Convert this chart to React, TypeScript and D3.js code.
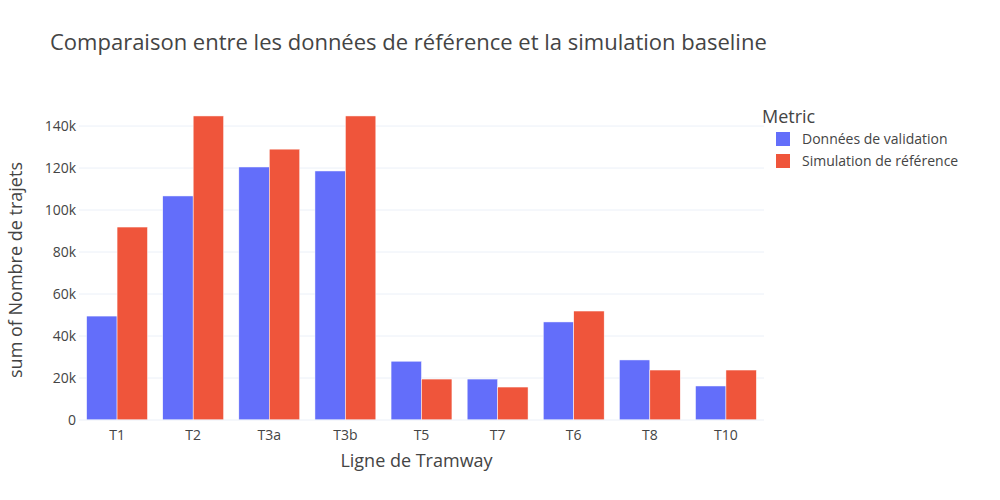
import React from "react";
import * as d3 from "d3";

const categories = ["T1", "T2", "T3a", "T3b", "T5", "T7", "T6", "T8", "T10"];
const validation = [49500, 106700, 120500, 118600, 28000, 19500, 46700, 28600, 16200];
const simulation = [91900, 144800, 129000, 144800, 19500, 15700, 51900, 23800, 23800];
const yTicks = [0, 20000, 40000, 60000, 80000, 100000, 120000, 140000];
const seriesNames = ["Données de validation", "Simulation de référence"];
const colors = ["#636efa", "#EF553B"];

export default function App() {
  const W = 1000, H = 500;
  const left = 79, right = 764, top = 100, bottom = 420;
  const x = d3.scaleBand().domain(categories).range([left, right]).paddingInner(0.2).paddingOuter(0.1);
  const inner = d3.scaleBand().domain(["0", "1"]).range([0, x.bandwidth()]);
  const y = d3.scaleLinear().domain([0, 152400]).range([bottom, top]);
  const font = "'Open Sans', sans-serif";
  const data = [validation, simulation];
  return (
    <svg width={W} height={H} style={{ position: "absolute", left: 0, top: 0, fontFamily: font }}>
      <rect width={W} height={H} fill="#fff" />
      {yTicks.map((t) => (
        <g key={t}>
          {t > 0 && <line x1={left} x2={right} y1={y(t)} y2={y(t)} stroke="#ebf0f8" />}
          <text x={left - 3} y={y(t)} dy="0.35em" textAnchor="end" fontSize={14} fill="#444">
            {t === 0 ? "0" : `${t / 1000}k`}
          </text>
        </g>
      ))}
      {data.map((vals, s) =>
        categories.map((c, i) => (
          <rect key={c + s} x={(x(c) as number) + (inner(String(s)) as number)} width={inner.bandwidth()}
            y={y(vals[i])} height={bottom - y(vals[i])} fill={colors[s]} stroke="#fff" strokeWidth={0.5} />
        ))
      )}
      <line x1={left} x2={right} y1={bottom} y2={bottom} stroke="#ebf0f8" />
      {categories.map((c) => (
        <text key={c} x={(x(c) as number) + x.bandwidth() / 2} y={bottom + 20} textAnchor="middle" fontSize={14} fill="#444">{c}</text>
      ))}
      <text x={(left + right) / 2 - 5} y={467} textAnchor="middle" fontSize={18} fill="#444">Ligne de Tramway</text>
      <text transform={`translate(22,${(top + bottom) / 2 + 10}) rotate(-90)`} textAnchor="middle" fontSize={18} fill="#444">sum of Nombre de trajets</text>
      <text x={50} y={50} fontSize={22} fill="#444">Comparaison entre les données de référence et la simulation baseline</text>
      <text x={762} y={123} fontSize={18} fill="#444">Metric</text>
      {seriesNames.map((n, i) => (
        <g key={n}>
          <rect x={776} y={132 + i * 22} width={14} height={14} fill={colors[i]} />
          <text x={802} y={139 + i * 22} dy="0.35em" fontSize={14} fill="#444">{n}</text>
        </g>
      ))}
    </svg>
  );
}
